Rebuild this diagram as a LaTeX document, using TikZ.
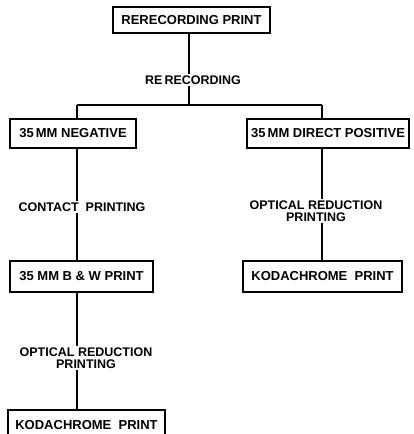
\documentclass[tikz,border=0pt]{standalone}
\usepackage{fontspec}
\setmainfont{Liberation Sans}
\begin{document}
\begin{tikzpicture}[x=1pt,y=-1pt,
  box/.style={draw=black,line width=1.3pt,inner sep=0pt,font=\bfseries\fontsize{13}{14}\selectfont},
  lbl/.style={fill=white,inner sep=2pt,align=center,font=\bfseries\fontsize{12.5}{12}\selectfont},
  conn/.style={line width=1.3pt}]
\useasboundingbox (0,0) rectangle (413,434);
\node[box,minimum width=157pt,minimum height=26pt] (top) at (191.5,20) {RERECORDING PRINT};
\node[box,minimum width=126pt,minimum height=29pt] (neg) at (73,133.5) {35\,MM NEGATIVE};
\node[box,minimum width=162pt,minimum height=29pt] (pos) at (328,133.5) {35\,MM DIRECT POSITIVE};
\node[box,minimum width=143pt,minimum height=31pt] (bw) at (81.5,276.5) {35 MM B \& W PRINT};
\node[box,minimum width=159pt,minimum height=31pt] (kr) at (322.5,276.5) {KODACHROME\ \ PRINT};
\node[box,minimum width=157pt,minimum height=31pt] (kl) at (86.5,425.5) {KODACHROME\ \ PRINT};
\coordinate (jt) at (189,105);
\coordinate (jl) at (77,105);
\coordinate (jr) at (322,105);
\draw[conn] (top.south -| jt) -- (jt);
\draw[conn] (jl) -- (jr);
\draw[conn] (jl) -- (neg.north -| jl);
\draw[conn] (jr) -- (pos.north -| jr);
\draw[conn] (neg.south -| jl) -- (bw.north -| jl);
\draw[conn] (pos.south -| jr) -- (kr.north -| jr);
\draw[conn] (bw.south -| jl) -- (kl.north -| jl);
\node[lbl] (l1) at (193,80) {RE\,RECORDING};
\node[lbl] (l2) at (82,207) {CONTACT\ \ PRINTING};
\node[lbl] (l3) at (316,211) {OPTICAL REDUCTION\\PRINTING};
\node[lbl] (l4) at (86,358) {OPTICAL REDUCTION\\PRINTING};
\end{tikzpicture}
\end{document}
